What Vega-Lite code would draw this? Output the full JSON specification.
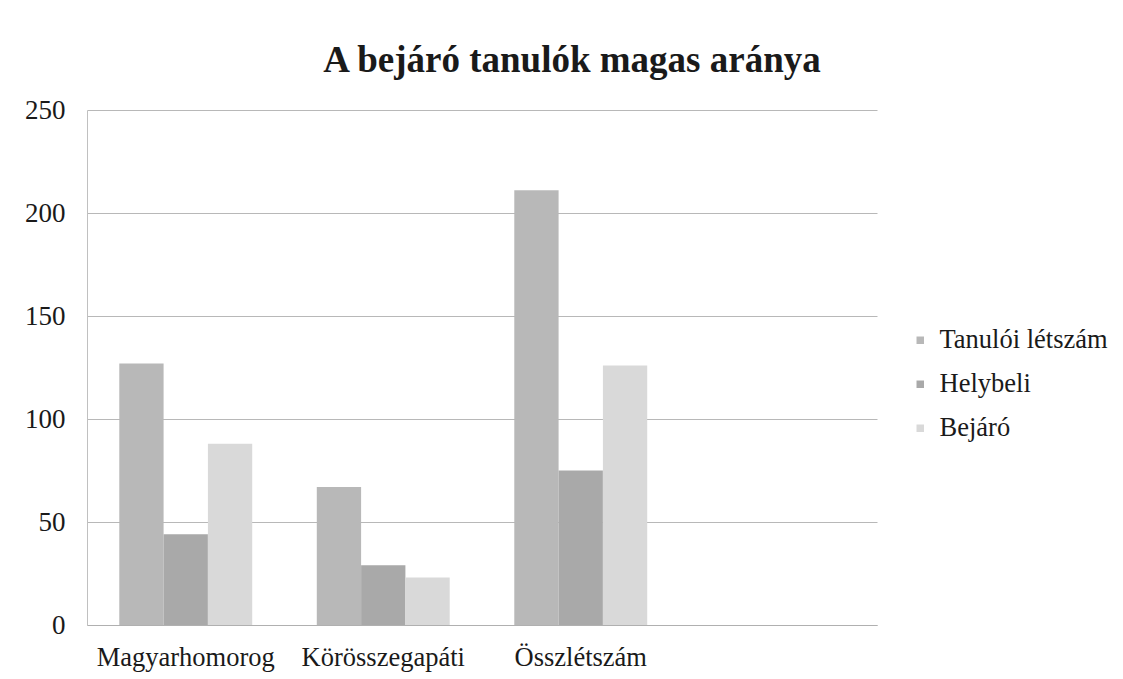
{
  "$schema": "https://vega.github.io/schema/vega-lite/v6.json",
  "autosize": {"type": "none"},
  "width": 790,
  "height": 515,
  "padding": {"left": 87, "top": 110, "right": 246, "bottom": 54},
  "background": "white",
  "title": {
    "text": "A bejáró tanulók magas aránya",
    "anchor": "middle",
    "dx": 90,
    "offset": 16,
    "font": "Liberation Serif",
    "fontSize": 37,
    "fontWeight": "bold",
    "color": "#1a1a1a"
  },
  "data": {
    "values": [
      {"hely": "Magyarhomorog", "sorozat": "Tanulói létszám", "ertek": 127},
      {"hely": "Magyarhomorog", "sorozat": "Helybeli", "ertek": 44},
      {"hely": "Magyarhomorog", "sorozat": "Bejáró", "ertek": 88},
      {"hely": "Körösszegapáti", "sorozat": "Tanulói létszám", "ertek": 67},
      {"hely": "Körösszegapáti", "sorozat": "Helybeli", "ertek": 29},
      {"hely": "Körösszegapáti", "sorozat": "Bejáró", "ertek": 23},
      {"hely": "Összlétszám", "sorozat": "Tanulói létszám", "ertek": 211},
      {"hely": "Összlétszám", "sorozat": "Helybeli", "ertek": 75},
      {"hely": "Összlétszám", "sorozat": "Bejáró", "ertek": 126}
    ]
  },
  "mark": {"type": "bar"},
  "encoding": {
    "x": {
      "field": "hely",
      "type": "nominal",
      "scale": {"domain": ["Magyarhomorog", "Körösszegapáti", "Összlétszám", " "], "paddingInner": 0.327, "paddingOuter": 0.1635},
      "axis": {
        "title": null,
        "labelAngle": 0,
        "labelFont": "Liberation Serif",
        "labelFontSize": 26.5,
        "labelColor": "#1a1a1a",
        "labelPadding": 19,
        "ticks": false,
        "domainColor": "#b0b0b0",
        "grid": false
      }
    },
    "xOffset": {
      "field": "sorozat",
      "type": "nominal",
      "scale": {"domain": ["Tanulói létszám", "Helybeli", "Bejáró"], "paddingInner": 0, "paddingOuter": 0}
    },
    "y": {
      "field": "ertek",
      "type": "quantitative",
      "scale": {"domain": [0, 250], "nice": false},
      "axis": {
        "title": null,
        "values": [0, 50, 100, 150, 200, 250],
        "labelFont": "Liberation Serif",
        "labelFontSize": 27,
        "labelColor": "#1a1a1a",
        "labelPadding": 22,
        "ticks": false,
        "domainColor": "#c0c0c0",
        "gridColor": "#b8b8b8",
        "gridWidth": 1
      }
    },
    "color": {
      "field": "sorozat",
      "type": "nominal",
      "scale": {"domain": ["Tanulói létszám", "Helybeli", "Bejáró"], "range": ["#b8b8b8", "#a9a9a9", "#d9d9d9"]},
      "legend": {
        "title": null,
        "orient": "none",
        "legendX": 820,
        "legendY": 217,
        "padding": 0,
        "symbolType": "square",
        "symbolSize": 56,
        "symbolStrokeWidth": 0,
        "labelFont": "Liberation Serif",
        "labelFontSize": 26.5,
        "labelColor": "#1a1a1a",
        "labelOffset": 6,
        "labelLimit": 400,
        "rowPadding": 17
      }
    }
  },
  "config": {
    "view": {"stroke": null}
  }
}
